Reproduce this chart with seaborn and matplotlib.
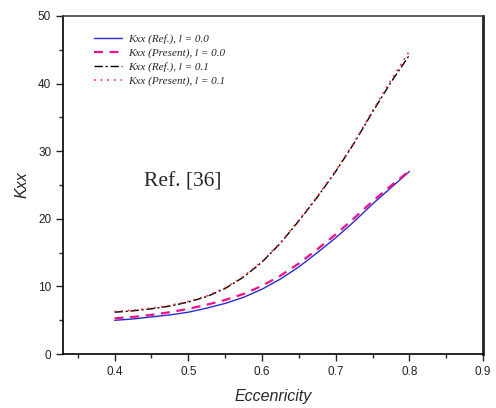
import matplotlib
matplotlib.use("Agg")
import matplotlib.pyplot as plt
from matplotlib.ticker import MultipleLocator
import seaborn as sns
import pandas as pd

# Eccentricity values and stiffness coefficient Kxx for each case
eccentricity = [0.400, 0.425, 0.450, 0.475, 0.500, 0.525, 0.550, 0.575, 0.600,
                0.625, 0.650, 0.675, 0.700, 0.725, 0.750, 0.775, 0.800]
kxx_ref_l00 = [5.0, 5.2, 5.5, 5.8, 6.2, 6.8, 7.5, 8.4, 9.6,
               11.1, 12.9, 15.0, 17.2, 19.6, 22.2, 24.6, 27.0]
kxx_present_l00 = [5.3, 5.5, 5.8, 6.2, 6.7, 7.3, 8.0, 8.9, 10.1,
                   11.6, 13.4, 15.5, 17.7, 20.1, 22.6, 24.9, 27.1]
kxx_ref_l01 = [6.2, 6.4, 6.7, 7.1, 7.7, 8.5, 9.7, 11.4, 13.6,
               16.4, 19.7, 23.2, 27.0, 31.2, 35.8, 40.2, 44.2]
kxx_present_l01 = [6.3, 6.5, 6.8, 7.2, 7.8, 8.6, 9.8, 11.5, 13.7,
                   16.5, 19.8, 23.3, 27.1, 31.3, 36.0, 40.5, 44.8]

labels = ["Kxx (Ref.), l = 0.0", "Kxx (Present), l = 0.0",
          "Kxx (Ref.), l = 0.1", "Kxx (Present), l = 0.1"]

sns.set_style("ticks")
plt.rcParams["font.family"] = ["Liberation Sans", "DejaVu Sans"]

fig = plt.figure(figsize=(4.96, 4.08), dpi=100)
ax = fig.add_axes([0.127, 0.132, 0.847, 0.829])

series = [
    (kxx_ref_l00, dict(color="#2a2ad0", linewidth=1.0, linestyle="-")),
    (kxx_present_l00, dict(color="#ee1188", linewidth=1.6, linestyle=(0, (4, 3)))),
    (kxx_ref_l01, dict(color="black", linewidth=1.0, linestyle=(0, (6, 2, 1.5, 2)))),
    (kxx_present_l01, dict(color="#ff2020", linewidth=1.2, linestyle=(0, (1, 3)))),
]
for (vals, style), lab in zip(series, labels):
    df = pd.DataFrame({"e": eccentricity, "k": vals})
    sns.lineplot(data=df, x="e", y="k", ax=ax, label=lab, **style)

ax.set_xlim(0.33, 0.9)
ax.set_ylim(0, 50)
ax.xaxis.set_major_locator(MultipleLocator(0.1))
ax.xaxis.set_minor_locator(MultipleLocator(0.05))
ax.yaxis.set_major_locator(MultipleLocator(10))
ax.yaxis.set_minor_locator(MultipleLocator(5))
ax.set_xticks([0.4, 0.5, 0.6, 0.7, 0.8, 0.9])
ax.set_xticklabels(["0.4", "0.5", "0.6", "0.7", "0.8", "0.9"])
ax.tick_params(which="major", direction="out", length=5, width=1.0, labelsize=8.5,
               labelcolor="#222222", top=False, right=False)
ax.tick_params(which="minor", direction="out", length=3, width=1.0, top=False, right=False)

for side in ["left", "bottom", "top"]:
    ax.spines[side].set_linewidth(1.2)
    ax.spines[side].set_color("black")
ax.spines["right"].set_linewidth(2.0)
ax.spines["right"].set_color("#222222")
ax.spines["top"].set_color("#444444")

ax.set_xlabel("Eccenricity", fontsize=11.5, style="italic", labelpad=8)
ax.set_ylabel("Kxx", fontsize=11.5, style="italic", labelpad=6)

leg = ax.legend(loc="upper left", bbox_to_anchor=(0.05, 0.975), frameon=False,
                prop={"family": ["Liberation Serif"], "style": "italic", "size": 8},
                handlelength=2.5, handletextpad=0.6, labelspacing=0.35)

ax.text(0.285, 0.509, "Ref. [36]", transform=ax.transAxes, fontsize=15.5,
        family=["Liberation Serif"], va="center", ha="center",
        bbox=dict(facecolor="white", edgecolor="none", pad=14))

fig.savefig("out.png", dpi=100)
